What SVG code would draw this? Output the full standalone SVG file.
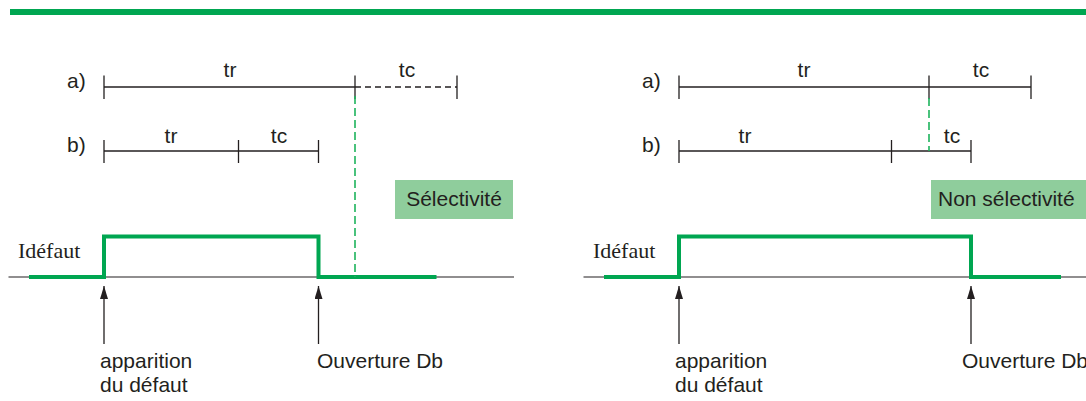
<svg xmlns="http://www.w3.org/2000/svg" width="1086" height="401" viewBox="0 0 1086 401">
  <style>
    .lbl { font-family: "Liberation Sans", Arial, sans-serif; font-size: 21px; fill: #231f20; }
    .ser { font-family: "Liberation Serif", "Times New Roman", serif; font-size: 22px; fill: #231f20; }
    .mid { text-anchor: middle; }
    .seg { stroke: #231f20; stroke-width: 1.3; fill: none; }
    .dash { stroke: #231f20; stroke-width: 1.3; fill: none; stroke-dasharray: 6 4; }
    .axis { stroke: #231f20; stroke-width: 1.2; fill: none; }
    .sig { stroke: #00a651; stroke-width: 4; fill: none; stroke-linejoin: miter; stroke-linecap: butt; }
    .guide { stroke: #1db35c; stroke-width: 1.6; fill: none; stroke-dasharray: 8 4; }
    .arr { stroke: #231f20; stroke-width: 1.3; fill: none; marker-end: url(#head); }
    .box { fill: #8fcd9c; }
  </style>
  <defs>
    <!-- arrowhead drawn along +x, aligned to the line direction -->
    <marker id="head" viewBox="0 0 13 8" refX="13" refY="4" markerWidth="13" markerHeight="8" orient="auto" markerUnits="userSpaceOnUse">
      <path d="M0,0 L13,4 L0,8 Z" fill="#231f20"/>
    </marker>
  </defs>

  <!-- header rule -->
  <rect x="10" y="9" width="1076" height="6" fill="#00a651"/>

  <!-- ===== left panel: selectivity ===== -->
  <g id="left-timing-a">
    <text class="lbl" x="67" y="88">a)</text>
    <line class="seg" x1="104" y1="87" x2="355" y2="87"/>
    <line class="dash" x1="355" y1="87" x2="457" y2="87"/>
    <line class="seg" x1="104" y1="75.5" x2="104" y2="99"/>
    <line class="seg" x1="355" y1="75.5" x2="355" y2="99"/>
    <line class="seg" x1="457" y1="75.5" x2="457" y2="99"/>
    <text class="lbl mid" x="230" y="77">tr</text>
    <text class="lbl mid" x="407" y="77">tc</text>
  </g>
  <g id="left-timing-b">
    <text class="lbl" x="67" y="152">b)</text>
    <line class="seg" x1="104" y1="151" x2="318.5" y2="151"/>
    <line class="seg" x1="104" y1="140" x2="104" y2="163"/>
    <line class="seg" x1="238.5" y1="140" x2="238.5" y2="163"/>
    <line class="seg" x1="318.5" y1="140" x2="318.5" y2="163"/>
    <text class="lbl mid" x="171" y="143">tr</text>
    <text class="lbl mid" x="279" y="143">tc</text>
  </g>
  <g id="left-badge">
    <rect class="box" x="395" y="180" width="118" height="39"/>
    <text class="lbl mid" x="454" y="206">Sélectivité</text>
  </g>
  <g id="left-signal">
    <text class="ser" x="18" y="258">Idéfaut</text>
    <line class="axis" x1="8.5" y1="277" x2="514" y2="277"/>
    <polyline class="sig" points="29,277 104,277 104,236.5 318.5,236.5 318.5,277 436.5,277"/>
  </g>
  <g id="left-fault-label">
    <text class="lbl" x="100" y="368">apparition</text>
    <text class="lbl" x="100" y="392">du défaut</text>
  </g>
  <g id="left-open-label">
    <text class="lbl" x="317" y="368">Ouverture Db</text>
  </g>

  <!-- ===== right panel: no selectivity ===== -->
  <g id="right-timing-a">
    <text class="lbl" x="642" y="88">a)</text>
    <line class="seg" x1="679" y1="87" x2="1031" y2="87"/>
    <line class="seg" x1="679" y1="75.5" x2="679" y2="99"/>
    <line class="seg" x1="929" y1="75.5" x2="929" y2="99"/>
    <line class="seg" x1="1031" y1="75.5" x2="1031" y2="99"/>
    <text class="lbl mid" x="804" y="77">tr</text>
    <text class="lbl mid" x="981" y="77">tc</text>
  </g>
  <g id="right-timing-b">
    <text class="lbl" x="642" y="152">b)</text>
    <line class="seg" x1="679" y1="151" x2="971" y2="151"/>
    <line class="seg" x1="679" y1="140" x2="679" y2="163"/>
    <line class="seg" x1="891.5" y1="140" x2="891.5" y2="163"/>
    <line class="seg" x1="971" y1="140" x2="971" y2="163"/>
    <text class="lbl mid" x="745" y="143">tr</text>
    <text class="lbl mid" x="952" y="143">tc</text>
  </g>
  <g id="right-badge">
    <rect class="box" x="931" y="180" width="160" height="39"/>
    <text class="lbl" x="938" y="206">Non sélectivité</text>
  </g>
  <g id="right-signal">
    <text class="ser" x="593" y="258">Idéfaut</text>
    <line class="axis" x1="583.5" y1="277" x2="1086" y2="277"/>
    <polyline class="sig" points="604,277 679,277 679,236.5 971,236.5 971,277 1061,277"/>
  </g>
  <g id="right-fault-label">
    <text class="lbl" x="675" y="368">apparition</text>
    <text class="lbl" x="675" y="392">du défaut</text>
  </g>
  <g id="right-open-label">
    <text class="lbl" x="962" y="368">Ouverture Db</text>
  </g>

  <!-- connectors: time markers and event arrows -->
  <g id="connectors">
    <line class="guide" x1="355" y1="96" x2="355" y2="277"/>
    <line class="guide" x1="929" y1="98" x2="929" y2="151"/>
    <line class="arr" x1="104" y1="344" x2="104" y2="286"/>
    <line class="arr" x1="318.5" y1="344" x2="318.5" y2="286"/>
    <line class="arr" x1="679" y1="344" x2="679" y2="286"/>
    <line class="arr" x1="971" y1="344" x2="971" y2="286"/>
  </g>
</svg>
